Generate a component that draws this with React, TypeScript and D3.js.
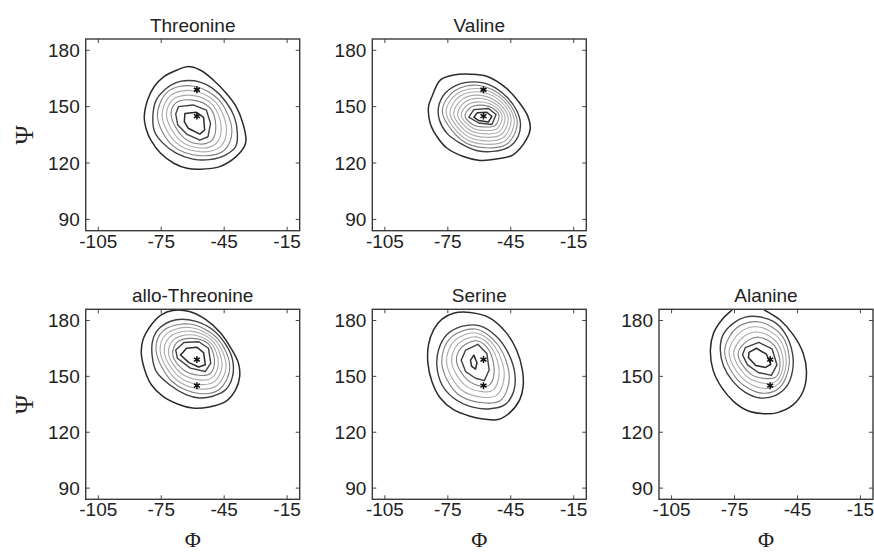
import * as d3 from 'd3';

type Pt = [number, number];

// axes
const phiTicks = [-105, -75, -45, -15];
const psiTicks = [90, 120, 150, 180];
const phiRange: Pt = [-111, -9];
const psiRange: Pt = [84, 186];

const titles = ['Threonine', 'Valine', 'allo-Threonine', 'Serine', 'Alanine'];

// the two reference "*" points drawn in every panel
const refPoints: Pt[] = [[-58, 159], [-58, 145]];

// contour lines, outermost first (phi, psi)
const threonineRings: Pt[][] = [
  [[-62.7, 171.3], [-56.5, 169.5], [-50.2, 164.2], [-44, 157.1], [-39.3, 150], [-36.1, 141.2], [-34.6, 132.3], [-35.4, 128.7], [-39.3, 123.4], [-47.1, 118.1], [-56.5, 116.7], [-62.7, 117.2], [-69, 119.9], [-75.3, 125.2], [-80, 132.3], [-82.3, 138.5], [-83.1, 144.3], [-81.5, 153.6], [-78.4, 160.6], [-73.7, 166], [-67.4, 169.5]],
  [[-63.9, 163.8], [-56.8, 163.2], [-50.5, 159.7], [-44.2, 152.6], [-40.2, 144.7], [-38.7, 135.9], [-39.5, 128.8], [-44.2, 124.4], [-52.1, 121.8], [-60, 122.1], [-67.9, 125.3], [-74.2, 130.6], [-78.2, 136.8], [-79, 144.7], [-77.4, 153.5], [-72.6, 159.7], [-67.9, 162.8]],
  [[-60, 161], [-47.5, 153.6], [-41.3, 137], [-44.9, 126.8], [-56.1, 123.9], [-69.4, 129.1], [-76.8, 145], [-71.8, 158]],
  [[-60, 158.5], [-49, 152.3], [-43.9, 138], [-46.9, 128.6], [-56.2, 126], [-67.8, 130.7], [-74.6, 145.2], [-70.5, 156]],
  [[-60, 156], [-50.5, 150.9], [-46.4, 139], [-48.8, 130.4], [-56.4, 128], [-66.2, 132.2], [-72.5, 145.5], [-69.3, 154]],
  [[-60, 153.5], [-52, 149.6], [-49, 140], [-50.8, 132.2], [-56.5, 130.1], [-64.6, 133.8], [-70.3, 145.7], [-68, 152]],
  [[-66.8, 150], [-59.8, 150.9], [-53.5, 148.2], [-51.5, 141.1], [-52.7, 134], [-56.6, 132.2], [-62.9, 135.4], [-67.1, 140.2], [-68.1, 146.1]],
  [[-63.7, 146.4], [-58.2, 147], [-54.8, 144.3], [-54.3, 137.6], [-56.6, 135.4], [-62.1, 138.5], [-64, 142]],
];

const valineRings: Pt[][] = [
  [[-64.4, 167.3], [-56.5, 166.2], [-47, 159.7], [-40.7, 151.8], [-36.8, 144.7], [-35.7, 138.5], [-37.6, 132.4], [-43.9, 124.4], [-51.8, 122.1], [-59.7, 121.4], [-67.6, 123.5], [-75.5, 128], [-80.2, 134.1], [-83.4, 141.2], [-84.2, 150], [-82.6, 155.3], [-78.6, 164.1], [-72.3, 166.8]],
  [[-62.8, 163.2], [-54.9, 161.5], [-47, 155.3], [-42.3, 148.2], [-40.4, 141.2], [-41.5, 134.1], [-45.5, 128.8], [-53.4, 126.2], [-61.3, 126.7], [-69.2, 130.6], [-75.5, 135.9], [-79, 142.9], [-79.4, 150], [-76.3, 157.1], [-70.7, 161.5]],
  [[-59.8, 161.3], [-47.8, 154.3], [-41.9, 141.8], [-46.5, 130.4], [-57, 128.1], [-68.2, 132], [-77.6, 147.6], [-71.8, 158.5]],
  [[-59.6, 159.5], [-48.6, 153.4], [-43.3, 142.4], [-47.5, 132], [-57, 130], [-67.3, 133.3], [-75.8, 147.1], [-70.5, 157]],
  [[-59.4, 157.8], [-49.4, 152.4], [-44.8, 142.9], [-48.5, 133.6], [-57, 131.8], [-66.3, 134.7], [-74, 146.7], [-69.3, 155.5]],
  [[-59.3, 156], [-50.3, 151.4], [-46.2, 143.5], [-49.5, 135.2], [-57, 133.7], [-65.4, 136.1], [-72.2, 146.2], [-68, 154]],
  [[-59.1, 154.3], [-51.1, 150.4], [-47.7, 144.1], [-50.5, 136.7], [-57, 135.5], [-64.4, 137.4], [-70.4, 145.8], [-66.8, 152.5]],
  [[-58.9, 152.5], [-51.9, 149.5], [-49.1, 144.7], [-51.5, 138.3], [-57, 137.3], [-63.4, 138.8], [-68.6, 145.3], [-65.5, 151]],
  [[-58.7, 150.8], [-52.7, 148.5], [-50.6, 145.2], [-52.5, 139.9], [-57, 139.2], [-62.5, 140.1], [-66.8, 144.9], [-64.3, 149.5]],
  [[-62.6, 148.4], [-55.6, 149], [-52, 145.8], [-54, 140.5], [-60.3, 141.3], [-65, 144.4]],
  [[-61, 146.7], [-56.4, 147], [-54, 144.9], [-55.6, 141.9], [-60.3, 142.6], [-62.6, 144.4]],
];

const alloThreonineRings: Pt[][] = [
  [[-69.5, 185.4], [-61.6, 184.8], [-53.7, 180.4], [-46.6, 173.2], [-41.8, 165.2], [-38.2, 157.1], [-37.6, 150], [-39.5, 142.9], [-44.2, 136.6], [-52.1, 133.6], [-60, 133], [-66.3, 134.8], [-74.2, 139.3], [-79.7, 145.5], [-82.9, 153.6], [-84.5, 162.5], [-83.7, 169.6], [-79.7, 177.7], [-75, 183]],
  [[-67.9, 180.4], [-58.4, 179.5], [-50.5, 175], [-44.2, 167], [-41, 158.9], [-41, 150], [-44.2, 142.9], [-50.5, 139.3], [-56.8, 138.4], [-63.2, 140.2], [-71, 145.5], [-77.4, 152.7], [-79.3, 160.7], [-79, 169.6], [-75.8, 175.9]],
  [[-61.7, 178.1], [-48.1, 170.3], [-42.3, 154.7], [-47.2, 143.1], [-56.8, 140.8], [-69.7, 147.1], [-77.5, 164.3], [-74.2, 174.3]],
  [[-61.3, 176.2], [-49.2, 169.5], [-44.1, 155.3], [-48.3, 145.2], [-56.9, 143.3], [-68.3, 148.7], [-75.5, 163.5], [-72.5, 172.8]],
  [[-61, 174.3], [-50.3, 168.8], [-46, 156], [-49.5, 147.3], [-56.9, 145.7], [-67, 150.3], [-73.5, 162.8], [-70.9, 171.2]],
  [[-60.7, 172.3], [-51.3, 168], [-47.8, 156.7], [-50.7, 149.3], [-56.9, 148.1], [-65.7, 151.8], [-71.5, 162], [-69.3, 169.6]],
  [[-60.3, 170.4], [-52.4, 167.3], [-49.6, 157.3], [-51.8, 151.4], [-57, 150.6], [-64.3, 153.4], [-69.5, 161.3], [-67.6, 168.1]],
  [[-64.2, 168.2], [-57.1, 168.6], [-52.5, 165.1], [-51.4, 157.1], [-54, 152.6], [-61.1, 154.4], [-67.3, 159.7], [-68.1, 164.2]],
  [[-62.9, 165.1], [-57.9, 165.6], [-54.8, 162.7], [-54, 156.2], [-57.1, 155], [-61.8, 157.4], [-65.8, 161.5]],
];

const serineRings: Pt[][] = [
  [[-72.3, 183.9], [-64.4, 184.3], [-54.9, 181.3], [-47, 173.2], [-42.3, 164.3], [-39.5, 153.6], [-39.1, 144.6], [-40.7, 137.5], [-45.5, 130.4], [-51, 126.8], [-58.1, 127.1], [-64.4, 128.6], [-72.3, 132.1], [-78.6, 138.4], [-82.6, 147.3], [-84.5, 157.1], [-84.2, 167], [-81.8, 175], [-77.8, 180.7]],
  [[-68.4, 176.8], [-59.7, 177.1], [-51.8, 171.4], [-46.2, 162.5], [-43.1, 151.8], [-43.6, 142], [-47.8, 134.8], [-55.7, 132.5], [-63.6, 133.6], [-72.3, 138.4], [-77.8, 145.5], [-80.2, 155.4], [-79.4, 164.3], [-75.5, 172.3]],
  [[-61.8, 175.4], [-51, 166.7], [-45.7, 149.2], [-49.8, 137.2], [-58.3, 135.8], [-70.6, 140.8], [-77.9, 157.3], [-73.7, 170.7]],
  [[-61.6, 173.3], [-52.5, 165.9], [-48.1, 150.4], [-51.6, 139.9], [-58.6, 138.8], [-69, 143.2], [-75.6, 157.7], [-71.9, 169]],
  [[-61.4, 171.2], [-54, 165.1], [-50.5, 151.6], [-53.4, 142.6], [-58.9, 141.8], [-67.3, 145.7], [-73.2, 158], [-70.1, 167.4]],
  [[-61.2, 169.1], [-55.5, 164.3], [-52.9, 152.8], [-55.2, 145.3], [-59.2, 144.8], [-65.7, 148.1], [-70.9, 158.4], [-68.3, 165.7]],
  [[-66.5, 164.1], [-60.7, 167.2], [-56.4, 162.3], [-55.3, 153.4], [-57.6, 147.7], [-61.8, 149], [-66.5, 152.5], [-68.6, 158.7]],
  [[-62.6, 161.4], [-61.1, 157.3], [-61.8, 153.9], [-63.7, 155.5], [-64.2, 158.7]],
];

const alanineRings: Pt[][] = [
  [[-61.3, 186.1], [-53.4, 180.4], [-47, 172.3], [-42.3, 162.5], [-40.7, 151.8], [-42.3, 142], [-47, 134.8], [-54.9, 130.4], [-62, 130], [-69.2, 131.8], [-75.5, 136.6], [-81, 143.8], [-85.3, 153.6], [-86.5, 164.3], [-85, 173.2], [-81, 180.4], [-76.8, 185], [-72, 189], [-65, 189.5]],
  [[-64.4, 182.1], [-56.5, 179.5], [-51, 173.2], [-47.4, 162.5], [-47.4, 152.7], [-50.2, 144.6], [-55.7, 139.6], [-62.8, 138.4], [-69.9, 141.4], [-75.8, 147.3], [-80.2, 155.4], [-81.8, 164.3], [-80.5, 172.3], [-75.5, 178.6], [-69.9, 181.8]],
  [[-63.1, 179.2], [-52.2, 171.5], [-48.9, 156.8], [-53.6, 143.9], [-62.2, 141], [-73.7, 148.3], [-79.7, 163.7], [-73.8, 176.2]],
  [[-63.2, 176.5], [-53.4, 169.8], [-50.4, 156.7], [-54.2, 145.8], [-61.7, 143.6], [-71.7, 149.4], [-77.6, 163.2], [-72.1, 173.9]],
  [[-63.2, 173.7], [-54.7, 168.1], [-51.8, 156.5], [-54.8, 147.7], [-61.1, 146.3], [-69.6, 150.4], [-75.4, 162.6], [-70.4, 171.5]],
  [[-63.3, 171], [-55.9, 166.4], [-53.3, 156.4], [-55.4, 149.6], [-60.6, 148.9], [-67.6, 151.5], [-73.3, 162.1], [-68.7, 169.2]],
  [[-69.9, 165.4], [-63.4, 168.2], [-57.1, 164.7], [-54.8, 156.2], [-57.4, 150.5], [-63.7, 152.1], [-68.8, 156.2], [-71.2, 161.5]],
  [[-68.1, 162.9], [-64.6, 165.1], [-59.8, 161.9], [-57.7, 156.5], [-60.2, 154.8], [-64.9, 155.8], [-68.4, 160.1]],
];

const panelRings = [threonineRings, valineRings, alloThreonineRings, serineRings, alanineRings];

// layout
const colLeft = [85.7, 372.3, 659];
const rowTop = [39, 309.3];
const rowH = [191.7, 190];
const panelW = 214;
const slots = [[0, 0], [0, 1], [1, 0], [1, 1], [1, 2]];

const sans = 'Liberation Sans, Arial, Helvetica, sans-serif';
const serif = 'Liberation Serif, Times New Roman, DejaVu Serif, serif';

// outer and inner lines are dark, the middle ones light grey
const ringStyle = (i: number, n: number) => {
  const d = Math.min(i, n - 1 - i);
  if (d === 0) return { stroke: '#2b2b2b', w: 1.5 };
  if (d === 1) return { stroke: '#404040', w: 1.4 };
  if (d === 2) return { stroke: '#808080', w: 1.1 };
  return { stroke: '#ababab', w: 1.1 };
};

const Panel = ({ idx }: { idx: number }) => {
  const [row, col] = slots[idx];
  const left = colLeft[col];
  const top = rowTop[row];
  const h = rowH[row];
  const x = d3.scaleLinear().domain(phiRange).range([0, panelW]);
  const y = d3.scaleLinear().domain(psiRange).range([h, 0]);
  const rings = panelRings[idx];
  const n = rings.length;

  const smooth = d3.line<Pt>().x((d) => x(d[0])).y((d) => y(d[1])).curve(d3.curveCatmullRomClosed.alpha(0.5));
  const sharp = d3.line<Pt>().x((d) => x(d[0])).y((d) => y(d[1])).curve(d3.curveLinearClosed);
  const star = d3.symbol(d3.symbolAsterisk, 34)();
  const tick = 4;

  return (
    <g transform={`translate(${left},${top})`}>
      <defs>
        <clipPath id={`clip${idx}`}>
          <rect x={0} y={0} width={panelW} height={h} />
        </clipPath>
      </defs>
      <rect x={0} y={0} width={panelW} height={h} fill="#fff" />
      <g clipPath={`url(#clip${idx})`}>
        {rings.map((ring, i) => {
          const s = ringStyle(i, n);
          const gen = i >= n - 2 ? sharp : smooth;
          return <path key={i} d={gen(ring) || ''} fill="none" stroke={s.stroke} strokeWidth={s.w} strokeLinejoin="round" />;
        })}
        {refPoints.map((p, i) => (
          <path key={i} d={star || ''} transform={`translate(${x(p[0])},${y(p[1])})`} fill="none" stroke="#111" strokeWidth={1.5} />
        ))}
      </g>
      {phiTicks.map((t) => (
        <g key={t}>
          <line x1={x(t)} x2={x(t)} y1={h} y2={h - tick} stroke="#444" strokeWidth={1} />
          <line x1={x(t)} x2={x(t)} y1={0} y2={tick} stroke="#444" strokeWidth={1} />
          <text x={x(t)} y={h + 17} textAnchor="middle" fontFamily={sans} fontSize={19} fill="#222">{t}</text>
        </g>
      ))}
      {psiTicks.map((t) => (
        <g key={t}>
          <line x1={0} x2={tick} y1={y(t)} y2={y(t)} stroke="#444" strokeWidth={1} />
          <line x1={panelW} x2={panelW - tick} y1={y(t)} y2={y(t)} stroke="#444" strokeWidth={1} />
          <text x={-6} y={y(t)} dy="0.36em" textAnchor="end" fontFamily={sans} fontSize={19} fill="#222">{t}</text>
        </g>
      ))}
      <rect x={0} y={0} width={panelW} height={h} fill="none" stroke="#3a3a3a" strokeWidth={1.4} />
      <text x={panelW / 2} y={-7} textAnchor="middle" fontFamily={sans} fontSize={19} fill="#222">{titles[idx]}</text>
      {col === 0 && (
        <text transform={`translate(${23.5 - left},${h / 2}) rotate(-90)`} textAnchor="middle" dy="0.35em" fontFamily={serif} fontSize={26} fill="#222">Ψ</text>
      )}
      {row === 1 && (
        <text x={panelW / 2} y={547 - top} textAnchor="middle" fontFamily={serif} fontSize={22} fill="#222">Φ</text>
      )}
    </g>
  );
};

export default function App() {
  return (
    <svg width={874} height={553} style={{ position: 'absolute', left: 0, top: 0, background: '#fff' }}>
      <rect width={874} height={553} fill="#fff" />
      {titles.map((_, i) => <Panel key={i} idx={i} />)}
    </svg>
  );
}
